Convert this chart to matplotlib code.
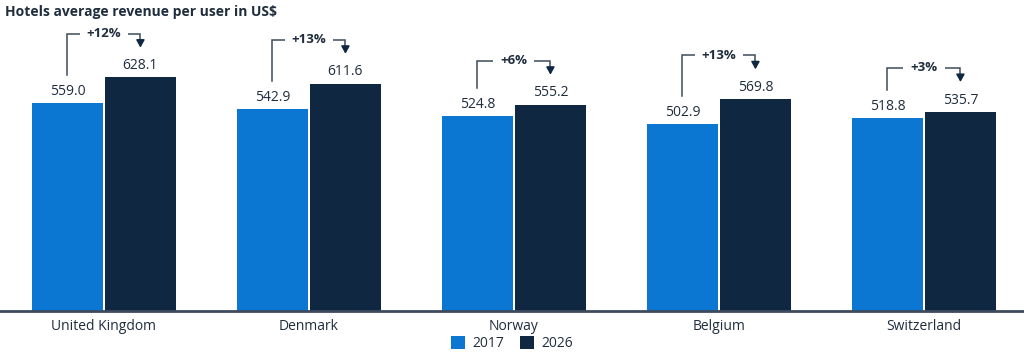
import numpy as np
import matplotlib
matplotlib.use("Agg")
import matplotlib.pyplot as plt

# data
countries = ["United Kingdom", "Denmark", "Norway", "Belgium", "Switzerland"]
rev_2017 = [559.0, 542.9, 524.8, 502.9, 518.8]
rev_2026 = [628.1, 611.6, 555.2, 569.8, 535.7]
growth = ["+12%", "+13%", "+6%", "+13%", "+3%"]

c2017 = "#0b77d3"
c2026 = "#0f2741"
txt = "#1f2d3d"
line_c = "#3d4b5c"

plt.rcParams["font.family"] = ["Open Sans", "DejaVu Sans"]

fig = plt.figure(figsize=(10.24, 3.6), dpi=100)
ax = fig.add_axes([0, 0.136, 1, 0.808])

x = np.arange(len(countries))
w = 0.343
off = 0.178
b1 = ax.bar(x - off, rev_2017, w, color=c2017, label="2017")
b2 = ax.bar(x + off, rev_2026, w, color=c2026, label="2026")

for xi, v in zip(x - off, rev_2017):
    ax.annotate(f"{v:.1f}", (xi, v), xytext=(0, 3), textcoords="offset points",
                ha="center", va="bottom", fontsize=10, color=txt)
for xi, v in zip(x + off, rev_2026):
    ax.annotate(f"{v:.1f}", (xi, v), xytext=(0, 3), textcoords="offset points",
                ha="center", va="bottom", fontsize=10, color=txt)

# growth brackets
for xi, a, b, g in zip(x, rev_2017, rev_2026, growth):
    top = b + 118
    ax.plot([xi - off, xi - off, xi + off, xi + off],
            [a + 75, top, top, b + 92], color=line_c, lw=1.1,
            solid_joinstyle="miter")
    ax.annotate("", xy=(xi + off, b + 80), xytext=(xi + off, b + 95),
                arrowprops=dict(arrowstyle="-|>,head_width=0.25,head_length=0.45",
                                color=c2026, lw=1.1, shrinkA=0, shrinkB=0))
    ax.text(xi, top, g, ha="center", va="center", fontsize=9.5,
            fontweight="bold", color=txt,
            bbox=dict(facecolor="white", edgecolor="none", pad=5))

ax.set_xlim(-0.507, 4.488)
ax.set_ylim(0, 782)
ax.set_xticks(x)
ax.set_xticklabels(countries, fontsize=10, color=txt)
ax.tick_params(axis="x", length=0, pad=6)
ax.set_yticks([])
for s in ["top", "right", "left"]:
    ax.spines[s].set_visible(False)
ax.spines["bottom"].set_color(line_c)
ax.spines["bottom"].set_linewidth(2)

fig.text(0.005, 0.985, "Hotels average revenue per user in US$", ha="left", va="top",
         fontsize=10, fontweight="bold", color=txt)

fig.legend(handles=[b1, b2], loc="lower center", bbox_to_anchor=(0.5, -0.01),
           ncol=2, frameon=False, fontsize=10, handlelength=1.0, handleheight=1.0,
           handletextpad=0.5, columnspacing=1.2, labelcolor=txt)

fig.savefig("out.png", dpi=100)
